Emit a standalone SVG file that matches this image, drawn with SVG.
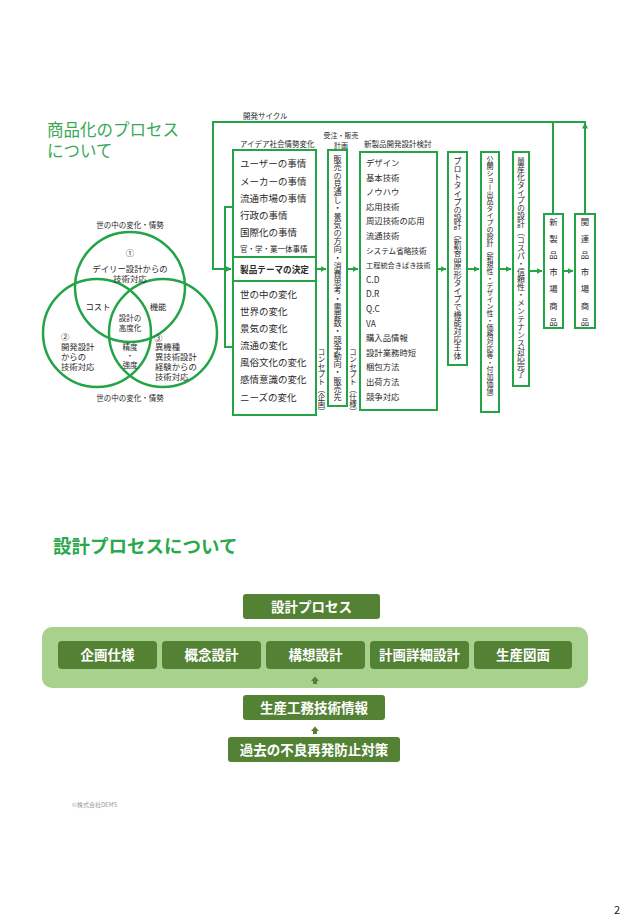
<svg xmlns="http://www.w3.org/2000/svg" width="630" height="922" viewBox="0 0 630 922">
<defs>
<marker id="ah" viewBox="0 0 6 6" refX="5.5" refY="3" markerWidth="6" markerHeight="6" orient="auto" markerUnits="userSpaceOnUse">
<path d="M0,0 L6,3 L0,6 z" fill="#22a447"/>
</marker>
</defs>
<style>
text{font-family:"Noto Sans CJK JP","Noto Sans",sans-serif;fill:#2a2a2a}
.ln{fill:none;stroke:#22a447;stroke-width:2}
.bx{fill:#fff;stroke:#22a447;stroke-width:2}
.vc{fill:none;stroke:#22a447;stroke-width:2.5}
.t1{font-size:9.5px}
.t2{font-size:8.4px}
.sm{font-size:7.5px}
.vn{font-size:8.4px}
.vt{writing-mode:vertical-rl}
.ttl{fill:#3aa856;font-size:16.5px}
.h2{fill:#2aa84a;font-size:18.5px;font-weight:bold}
.db{fill:#548235}
.wt{fill:#fff;font-size:13.5px;font-weight:bold;text-anchor:middle}
.ua{fill:#548235}
</style>
<rect width="630" height="922" fill="#fff"/>

<g id="title1">
<text class="ttl" x="47" y="136">商品化のプロセス</text>
<text class="ttl" x="47" y="157">について</text>
</g>

<g id="venn">
<text class="sm" x="130" y="228" text-anchor="middle">世の中の変化・情勢</text>
<circle class="vc" cx="130" cy="287" r="55"/>
<circle class="vc" cx="97" cy="333" r="54"/>
<circle class="vc" cx="163" cy="333" r="54"/>
<text class="vn" x="130" y="256" text-anchor="middle">①</text>
<text class="vn" x="130" y="272" text-anchor="middle">デイリー設計からの</text>
<text class="vn" x="130" y="282" text-anchor="middle">技術対応</text>
<text class="vn" x="98" y="310" text-anchor="middle">コスト</text>
<text class="vn" x="158" y="310" text-anchor="middle">機能</text>
<text class="sm" x="130" y="321" text-anchor="middle">設計の</text>
<text class="sm" x="130" y="331" text-anchor="middle">高度化</text>
<text class="sm" x="130" y="350" text-anchor="middle">精度</text>
<text class="sm" x="130" y="359" text-anchor="middle">・</text>
<text class="sm" x="130" y="368" text-anchor="middle">強度</text>
<text class="vn" x="61" y="340">②</text>
<text class="vn" x="61" y="350">開発設計</text>
<text class="vn" x="61" y="360">からの</text>
<text class="vn" x="61" y="370">技術対応</text>
<text class="vn" x="154" y="341">③</text>
<text class="vn" x="155" y="350">異機種</text>
<text class="vn" x="155" y="360">異技術設計</text>
<text class="vn" x="155" y="370">経験からの</text>
<text class="vn" x="155" y="380">技術対応</text>
<text class="sm" x="130" y="401" text-anchor="middle">世の中の変化・情勢</text>
</g>

<g id="labels">
<text class="sm" x="243" y="119">開発サイクル</text>
<text class="sm" x="240" y="147">アイデア社会情勢変化</text>
<text x="341" y="138" text-anchor="middle" style="font-size:7px">受注・販売</text>
<text x="341" y="147.5" text-anchor="middle" style="font-size:7px">計画</text>
<text class="sm" x="364" y="147">新製品開発設計検討</text>
</g>

<g id="idea-box">
<rect class="bx" x="233" y="150" width="83" height="107"/>
<text class="t1" x="240" y="167">ユーザーの事情</text>
<text class="t1" x="240" y="184.5">メーカーの事情</text>
<text class="t1" x="240" y="201.5">流通市場の事情</text>
<text class="t1" x="240" y="218.5">行政の事情</text>
<text class="t1" x="240" y="235.5">国際化の事情</text>
<text class="sm" x="240" y="252">官・学・業一体事情</text>
</g>
<g id="theme-box">
<rect class="bx" x="233" y="257" width="83" height="24"/>
<text x="274.5" y="272.5" text-anchor="middle" style="font-size:8.6px;font-weight:bold">製品テーマの決定</text>
</g>
<g id="change-box">
<rect class="bx" x="233" y="281" width="83" height="134"/>
<text class="t1" x="240" y="297.5">世の中の変化</text>
<text class="t1" x="240" y="314.5">世界の変化</text>
<text class="t1" x="240" y="331.5">景気の変化</text>
<text class="t1" x="240" y="348.5">流通の変化</text>
<text class="t1" x="240" y="365.5">風俗文化の変化</text>
<text class="t1" x="240" y="383">感情意識の変化</text>
<text class="t1" x="240" y="400.5">ニーズの変化</text>
</g>
<g id="concept1">
<text class="sm vt" x="321.5" y="348">コンセプト（企画）</text>
</g>

<g id="sales-box">
<rect class="bx" x="328" y="150" width="19" height="256"/>
<text class="vt" x="337.5" y="155" style="font-size:8.2px">販売の見通し・景気の方向・消費思考・需要数・競争動向・販売先</text>
</g>
<g id="concept2">
<text class="sm vt" x="353" y="348">コンセプト（仕様）</text>
</g>

<g id="dev-box">
<rect class="bx" x="360" y="152" width="77" height="258"/>
<text class="t2" x="366" y="166">デザイン</text>
<text class="t2" x="366" y="180.6">基本技術</text>
<text class="t2" x="366" y="195.2">ノウハウ</text>
<text class="t2" x="366" y="209.8">応用技術</text>
<text class="t2" x="366" y="224.4">周辺技術の応用</text>
<text class="t2" x="366" y="239">流通技術</text>
<text x="366" y="253.6" style="font-size:7.6px">システム省略技術</text>
<text x="366" y="268.2" style="font-size:7.2px">工程統合きばき技術</text>
<text class="t2" x="366" y="282.8">C.D</text>
<text class="t2" x="366" y="297.4">D.R</text>
<text class="t2" x="366" y="312">Q.C</text>
<text class="t2" x="366" y="326.6">VA</text>
<text class="t2" x="366" y="341.2">購入品情報</text>
<text class="t2" x="366" y="355.8">設計業務時短</text>
<text class="t2" x="366" y="370.4">梱包方法</text>
<text class="t2" x="366" y="385">出荷方法</text>
<text class="t2" x="366" y="399.6">競争対応</text>
</g>

<g id="proto-box">
<rect class="bx" x="448" y="152" width="19" height="213"/>
<text class="vt" x="457.5" y="157" style="font-size:8.1px">プロトタイプの設計（新製品原形タイプで機能対応主体</text>
</g>
<g id="show-box">
<rect class="bx" x="481" y="152" width="18" height="260"/>
<text class="vt" x="490" y="156" style="font-size:7px">公開ショー出品タイプの設計（新規性・デザイン性・価格対応等・付加価値）</text>
</g>
<g id="mass-box">
<rect class="bx" x="513" y="152" width="16" height="234"/>
<text class="vt" x="521" y="157" style="font-size:7.9px">量産化タイプの設計（コスパ・信頼性・メンテナンス対応完了</text>
</g>
<g id="newmarket-box">
<rect class="bx" x="544" y="214" width="19" height="114"/>
<text class="t2" x="553.5" y="225" text-anchor="middle">新</text>
<text class="t2" x="553.5" y="241.5" text-anchor="middle">製</text>
<text class="t2" x="553.5" y="258" text-anchor="middle">品</text>
<text class="t2" x="553.5" y="275" text-anchor="middle">市</text>
<text class="t2" x="553.5" y="292" text-anchor="middle">場</text>
<text class="t2" x="553.5" y="309" text-anchor="middle">商</text>
<text class="t2" x="553.5" y="325" text-anchor="middle">品</text>
</g>
<g id="relmarket-box">
<rect class="bx" x="575" y="214" width="20" height="114"/>
<text class="t2" x="585" y="225" text-anchor="middle">関</text>
<text class="t2" x="585" y="241.5" text-anchor="middle">連</text>
<text class="t2" x="585" y="258" text-anchor="middle">品</text>
<text class="t2" x="585" y="275" text-anchor="middle">市</text>
<text class="t2" x="585" y="292" text-anchor="middle">場</text>
<text class="t2" x="585" y="309" text-anchor="middle">商</text>
<text class="t2" x="585" y="325" text-anchor="middle">品</text>
</g>

<g id="title2">
<text class="h2" x="53" y="553">設計プロセスについて</text>
</g>

<g id="process-head">
<rect class="db" x="243" y="594" width="137" height="25" rx="3"/>
<text class="wt" x="311.5" y="611.5">設計プロセス</text>
</g>
<g id="process-band">
<rect x="42" y="627" width="546" height="61" rx="10" fill="#a9d18e"/>
</g>
<g id="step1">
<rect class="db" x="58" y="641" width="99" height="28" rx="4"/>
<text class="wt" x="107.5" y="660">企画仕様</text>
</g>
<g id="step2">
<rect class="db" x="162" y="641" width="99" height="28" rx="4"/>
<text class="wt" x="211.5" y="660">概念設計</text>
</g>
<g id="step3">
<rect class="db" x="266" y="641" width="99" height="28" rx="4"/>
<text class="wt" x="315.5" y="660">構想設計</text>
</g>
<g id="step4">
<rect class="db" x="370" y="641" width="99" height="28" rx="4"/>
<text class="wt" x="419.5" y="660">計画詳細設計</text>
</g>
<g id="step5">
<rect class="db" x="474" y="641" width="98" height="28" rx="4"/>
<text class="wt" x="523" y="660">生産図面</text>
</g>
<g id="prod-info">
<rect class="db" x="243" y="695" width="142" height="25" rx="3"/>
<text class="wt" x="314" y="712.5">生産工務技術情報</text>
</g>
<g id="past-defects">
<rect class="db" x="228" y="737" width="172" height="25" rx="3"/>
<text class="wt" x="314" y="754.5">過去の不良再発防止対策</text>
</g>

<g id="connectors">
<path class="ln" d="M553,214 V123 M585,214 V123" marker-end="url(#ah)"/>
<path class="ln" d="M586,122 H213 V269 H231" marker-end="url(#ah)"/>
<path class="ln" d="M233,207 H225 V347 H233"/>
<path class="ln" d="M316,269 H326" marker-end="url(#ah)"/>
<path class="ln" d="M347,269 H358" marker-end="url(#ah)"/>
<path class="ln" d="M437,269 H446" marker-end="url(#ah)"/>
<path class="ln" d="M467,269 H479" marker-end="url(#ah)"/>
<path class="ln" d="M499,269 H511" marker-end="url(#ah)"/>
<path class="ln" d="M529,271 H542" marker-end="url(#ah)"/>
<path class="ln" d="M563,271 H573" marker-end="url(#ah)"/>
<path class="ua" d="M311,681 L315,676.5 L319,681 L317,681 L317,684 L313,684 L313,681 Z"/>
<path class="ua" d="M311,731 L315,726.5 L319,731 L317,731 L317,734 L313,734 L313,731 Z"/>
</g>

<g id="footer">
<text x="72" y="807" style="font-size:6px;fill:#999">©株式会社DEMS</text>
<text x="614" y="914" style="font-size:11px;fill:#222">2</text>
</g>
</svg>
